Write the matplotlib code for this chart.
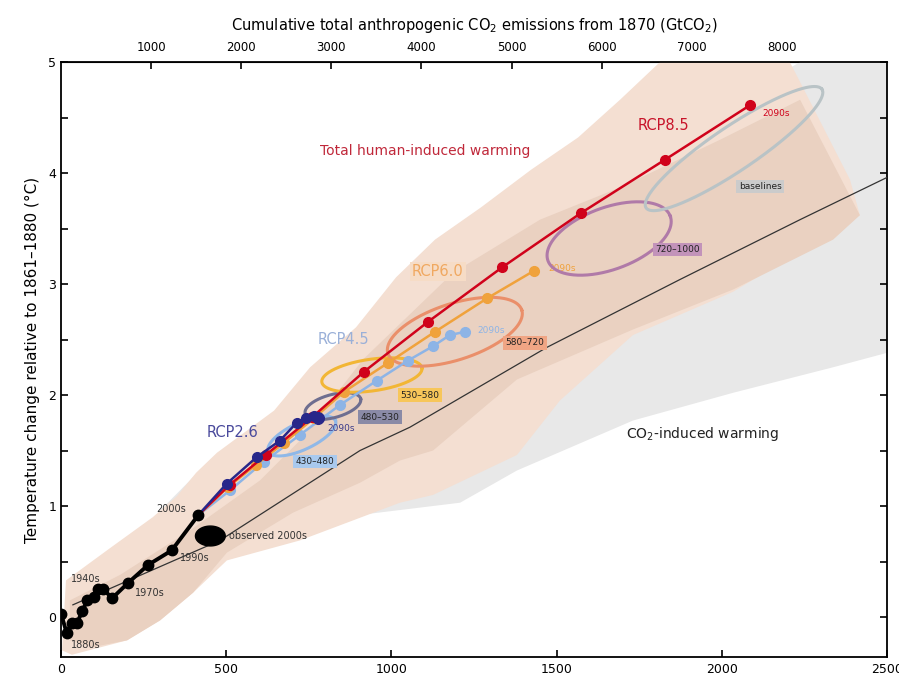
import numpy as np
import matplotlib
matplotlib.use('Agg')
import matplotlib.pyplot as plt
from matplotlib.patches import Polygon
from matplotlib.ticker import MultipleLocator

plt.rcParams['font.family'] = ['DejaVu Sans']

################################################################################
# data (cumulative total anthropogenic CO2 emissions from 1870, GtC / temperature, degC)
hist_x = [0, 17, 32, 49, 64, 79, 99, 113, 128, 155, 204, 264, 335, 416]
hist_y = [0.03, -0.14, -0.05, -0.05, 0.05, 0.15, 0.18, 0.25, 0.25, 0.17, 0.31, 0.47, 0.60, 0.92]

rcp26_x = [501, 592, 663, 713, 743, 765, 777, 782, 778]
rcp26_y = [1.20, 1.44, 1.59, 1.75, 1.79, 1.81, 1.80, 1.79, 1.78]
rcp45_x = [511, 614, 723, 844, 956, 1050, 1126, 1177, 1223]
rcp45_y = [1.14, 1.40, 1.64, 1.91, 2.13, 2.31, 2.44, 2.54, 2.57]
rcp60_x = [505, 590, 675, 765, 857, 990, 1132, 1289, 1432]
rcp60_y = [1.17, 1.37, 1.57, 1.79, 2.03, 2.29, 2.57, 2.87, 3.12]
rcp85_x = [510, 620, 760, 917, 1111, 1335, 1574, 1828, 2085]
rcp85_y = [1.19, 1.46, 1.80, 2.21, 2.66, 3.15, 3.64, 4.12, 4.61]

# CO2-only central estimate
co2_x = [36, 481, 905, 1056, 1471, 1873, 2237, 2500]
co2_y = [0.11, 0.69, 1.50, 1.71, 2.43, 3.04, 3.58, 3.96]

# CO2-induced warming range (grey)
co2_rng_x = [269, 421, 623, 905, 1208, 1380, 1731, 2034, 2337, 2500, 2500, 2237, 1783, 1177, 723, 400, 300]
co2_rng_y = [0.65, 0.54, 0.74, 0.92, 1.03, 1.32, 1.77, 2.02, 2.25, 2.38, 5.0, 5.0, 4.21, 2.86, 1.77, 1.26, 0.96]

# total human-induced warming, outer range
tot_out_x = [15, 148, 278, 351, 409, 472, 645, 754, 893, 1014, 1132, 1271, 1423, 1565, 1692, 1813,
             2206, 2388, 2418, 2034, 1731, 1510, 1380, 1126, 1026, 723, 502, 400, 300, 200, 33, 3]
tot_out_y = [0.33, 0.62, 0.90, 1.09, 1.30, 1.48, 1.86, 2.25, 2.61, 3.06, 3.40, 3.69, 4.03, 4.32, 4.66, 5.0,
             5.0, 3.94, 3.62, 2.93, 2.54, 1.95, 1.46, 1.10, 1.03, 0.69, 0.51, 0.22, -0.03, -0.21, -0.34, -0.30]
# total human-induced warming, inner range
tot_in_x = [27, 179, 390, 602, 723, 914, 1186, 1450, 1692, 1995, 2237, 2418, 2337, 2034, 1731, 1380,
            1126, 1026, 905, 702, 502, 400, 300, 200, 97, 27]
tot_in_y = [0.15, 0.38, 0.78, 1.23, 1.59, 2.32, 3.10, 3.58, 3.87, 4.30, 4.66, 3.62, 3.40, 2.95, 2.59, 2.14,
            1.50, 1.41, 1.21, 0.94, 0.58, 0.22, -0.03, -0.21, -0.27, -0.21]

# concentration categories (ppm CO2-eq): centre, semi-axes (GtC equiv.), tilt (deg)
cat_names = ['430\u2013480', '480\u2013530', '530\u2013580', '580\u2013720', '720\u20131000', 'baselines']
cat_cx = [729, 823, 941, 1192, 1659, 2037]
cat_cy = [1.63, 1.90, 2.18, 2.57, 3.41, 4.22]
cat_a = [112, 87, 153, 213, 197, 321]
cat_b = [41, 35, 48, 85, 94, 67]
cat_ang = [25, 15, 8, 18, 20, 34]
cat_lx = [769, 966, 1087, 1404, 1867, 2116]
cat_ly = [1.40, 1.80, 2.00, 2.47, 3.31, 3.88]

obs_x, obs_y = 452, 0.73

################################################################################
styles = {
    'rcp26': {'color': '#27278a'},
    'rcp45': {'color': '#8db4e6'},
    'rcp60': {'color': '#f0a23c'},
    'rcp85': {'color': '#d0021b'},
}
cat_line = ['#8fb8e8', '#6e6e90', '#f2b635', '#ea8f6a', '#b07aa8', '#b9c3c6']
cat_box = ['#a9c9ee', '#8a8aa6', '#f7c65a', '#f0a584', '#c293ba', '#cbcbcb']

fig = plt.figure(figsize=(8.99, 6.78), dpi=100)
ax = fig.add_axes([61/899, 21/678, 826/899, 595/678])
ax.set_xlim(0, 2500)
ax.set_ylim(-0.36, 5)

# visual aspect: GtC per degC on screen
bb = ax.get_position()
k = (bb.height*678/5.36)/(bb.width*899/2500)

def ellipse_xy(cx, cy, a, b, ang):
    t = np.linspace(0, 2*np.pi, 300)
    th = np.deg2rad(ang)
    u = a*np.cos(t)
    v = b*np.sin(t)
    return cx + u*np.cos(th) - v*np.sin(th), cy + (u*np.sin(th) + v*np.cos(th))/k

# ranges
ax.add_patch(Polygon(np.c_[co2_rng_x, co2_rng_y], closed=True, fc='#e8e8e8', ec='none', zorder=1))
ax.add_patch(Polygon(np.c_[tot_out_x, tot_out_y], closed=True, fc='#f4dfd2', ec='none', zorder=2))
ax.add_patch(Polygon(np.c_[tot_in_x, tot_in_y], closed=True, fc='#ead1c1', ec='none', zorder=3))

ax.plot(co2_x, co2_y, color='#333333', lw=0.9, zorder=4)

# category ellipses
for i in range(len(cat_names)):
    ex, ey = ellipse_xy(cat_cx[i], cat_cy[i], cat_a[i], cat_b[i], cat_ang[i])
    ax.plot(ex, ey, color=cat_line[i], lw=2.2, zorder=5)
    ax.text(cat_lx[i], cat_ly[i], cat_names[i], fontsize=6.5, color='#222222',
            ha='center', va='center', zorder=9,
            bbox=dict(boxstyle='square,pad=0.25', fc=cat_box[i], ec='none'))

# scenarios
for key, xs, ys in [('rcp45', rcp45_x, rcp45_y), ('rcp60', rcp60_x, rcp60_y),
                    ('rcp85', rcp85_x, rcp85_y), ('rcp26', rcp26_x, rcp26_y)]:
    ax.plot([hist_x[-1]] + xs, [hist_y[-1]] + ys, color=styles[key]['color'],
            lw=1.8, marker='o', ms=7, markevery=list(range(1, len(xs)+1)), zorder=6)

# historical
ax.plot(hist_x, hist_y, color='black', lw=2.8, marker='o', ms=7.5, zorder=7)
obs_ex, obs_ey = ellipse_xy(obs_x, obs_y, 45, 30, 0)
ax.fill(obs_ex, obs_ey, color='black', zorder=7)

# labels
dec = dict(fontsize=7, color='#333333', zorder=8)
ax.text(30, -0.25, '1880s', va='center', **dec)
ax.text(30, 0.34, '1940s', va='center', **dec)
ax.text(224, 0.22, '1970s', va='center', **dec)
ax.text(360, 0.53, '1990s', va='center', **dec)
ax.text(287, 0.97, '2000s', va='center', **dec)
ax.text(508, 0.73, 'observed 2000s', va='center', **dec)

ax.text(2122, 4.54, '2090s', fontsize=6.5, color=styles['rcp85']['color'], va='center', zorder=8)
ax.text(1474, 3.14, '2090s', fontsize=6.5, color=styles['rcp60']['color'], va='center', zorder=4.5)
ax.text(1259, 2.58, '2090s', fontsize=6.5, color=styles['rcp45']['color'], va='center', zorder=8)
ax.text(805, 1.70, '2090s', fontsize=6.5, color='#3a3a8a', va='center', zorder=8)

ax.text(1822, 4.43, 'RCP8.5', fontsize=10.5, color='#c8142a', ha='center', va='center', zorder=8)
ax.text(1141, 3.11, 'RCP6.0', fontsize=10.5, color='#f0a860', ha='center', va='center', zorder=8,
        bbox=dict(boxstyle='square,pad=0.15', fc='#f6dcc6', ec='none'))
ax.text(854, 2.50, 'RCP4.5', fontsize=10.5, color='#9ab0d8', ha='center', va='center', zorder=8)
ax.text(518, 1.66, 'RCP2.6', fontsize=10.5, color='#4a4a9c', ha='center', va='center', zorder=8)

ax.text(1102, 4.20, 'Total human-induced warming', fontsize=10, color='#c0283a',
        ha='center', va='center', zorder=8)
ax.text(1943, 1.65, 'CO$_2$-induced warming', fontsize=10, color='#222222',
        ha='center', va='center', zorder=8)

# axes
ax.set_xticks([0, 500, 1000, 1500, 2000, 2500])
ax.yaxis.set_major_locator(MultipleLocator(1))
ax.yaxis.set_minor_locator(MultipleLocator(0.5))
ax.set_yticks([0, 1, 2, 3, 4, 5])
ax.tick_params(axis='both', which='both', direction='in', length=5, width=1.2, labelsize=9)
ax.tick_params(axis='y', which='both', right=True)
ax.tick_params(axis='x', pad=4)
ax.set_ylabel('Temperature change relative to 1861\u20131880 (\u00b0C)', fontsize=11, labelpad=6)
for s in ax.spines.values():
    s.set_linewidth(1.3)

secax = ax.secondary_xaxis('top', functions=(lambda x: x*44/12, lambda x: x*12/44))
secax.set_xticks([1000, 2000, 3000, 4000, 5000, 6000, 7000, 8000, 9000],
                 ['1000', '2000', '3000', '4000', '5000', '6000', '7000', '8000', ''])
secax.tick_params(direction='in', length=5, width=1.2, labelsize=8.5, pad=6)
secax.set_xlabel('Cumulative total anthropogenic CO$_2$ emissions from 1870 (GtCO$_2$)',
                 fontsize=10.5, labelpad=8)

fig.savefig('out.png', dpi=100)
